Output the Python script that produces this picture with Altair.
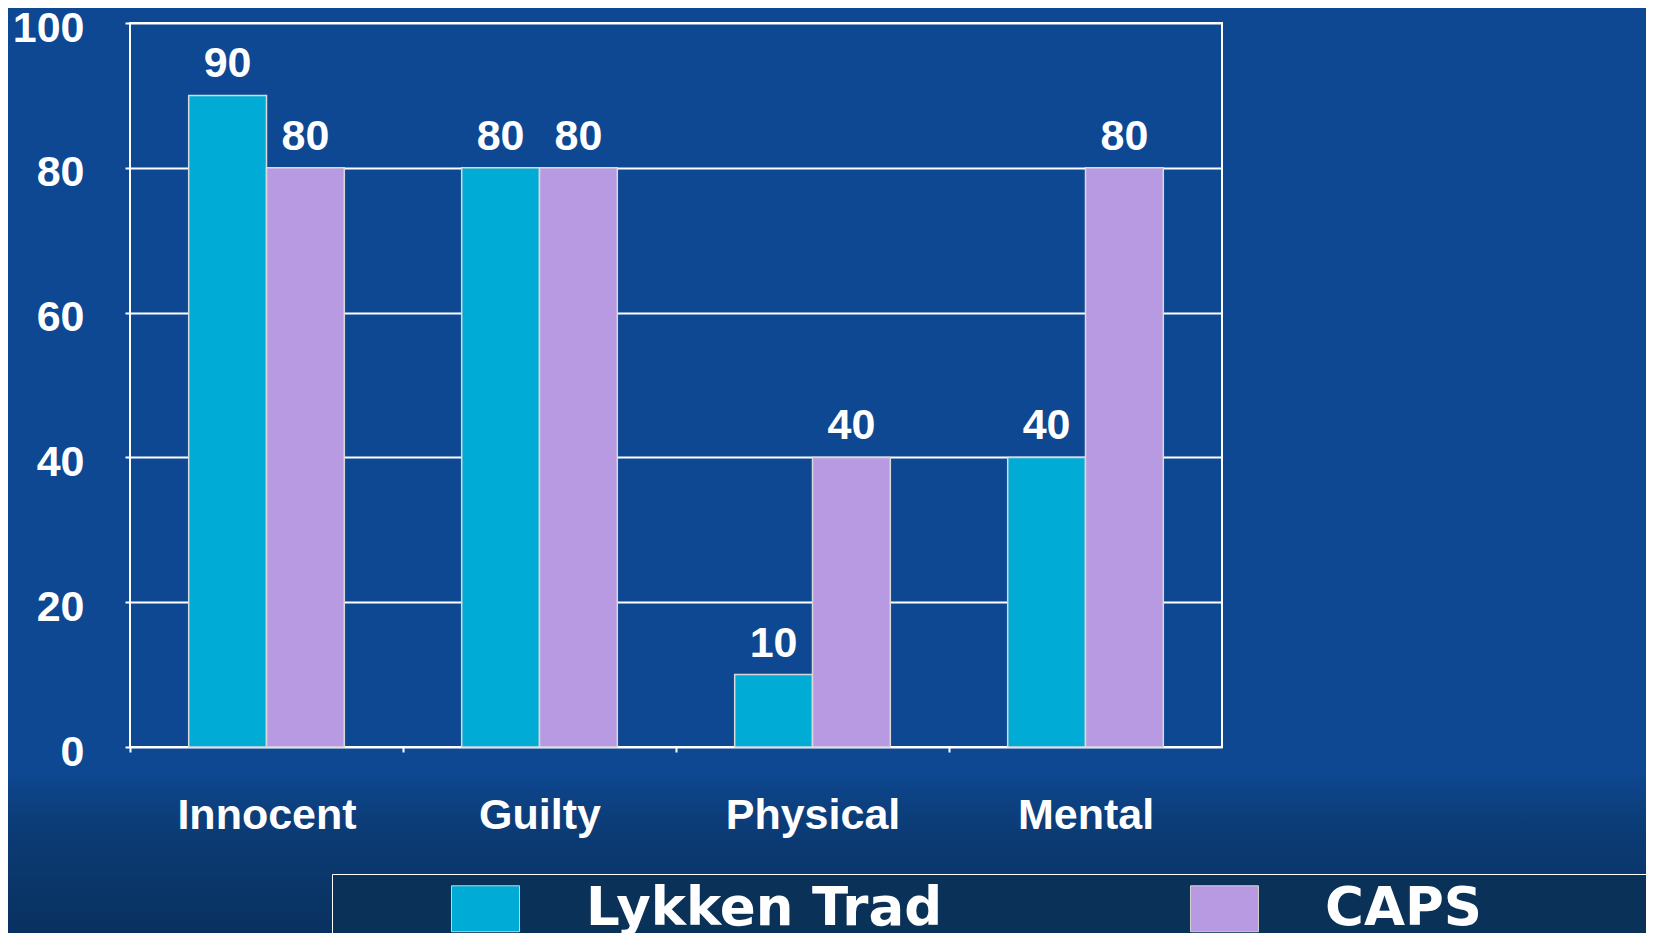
import altair as alt
import pandas as pd

categories = ["Innocent", "Guilty", "Physical", "Mental"]
series = ["Lykken Trad", "CAPS"]
lykken = [90, 80, 10, 40]
caps = [80, 80, 40, 80]
y_ticks = [0, 20, 40, 60, 80, 100]
colors = ["#00acd6", "#b89ae2"]

rows = []
for i, c in enumerate(categories):
    rows.append({"category": c, "series": series[0], "value": lykken[i]})
    rows.append({"category": c, "series": series[1], "value": caps[i]})
df = pd.DataFrame(rows)

W, H = 1092, 724
LF = "Liberation Sans"
HALF_STEP = W / len(categories) / 2

x_axis = alt.Axis(title=None, labelAngle=0, domain=False, ticks=True,
                  tickOffset=-HALF_STEP, labelOffset=HALF_STEP,
                  tickColor="white", tickSize=5, tickWidth=2, labelFont=LF, labelFontSize=43,
                  labelFontWeight="bold", labelColor="white", labelPadding=42, grid=False, zindex=1)
x_enc = alt.X("category:N", sort=categories,
              scale=alt.Scale(paddingInner=0.43, paddingOuter=0.215),
              axis=x_axis)
xo_enc = alt.XOffset("series:N", sort=series, scale=alt.Scale(paddingInner=0, paddingOuter=0))
y_axis = alt.Axis(values=y_ticks, title=None, domain=False, tickColor="white", tickSize=5,
                  tickWidth=2, grid=True, gridColor="white", gridWidth=2, gridOpacity=1,
                  labelFont=LF, labelFontSize=43, labelFontWeight="bold", labelColor="white",
                  labelPadding=41, labelOffset=5)
y_enc = alt.Y("value:Q", scale=alt.Scale(domain=[0, 100], nice=False), axis=y_axis)

# the legend frame runs off the right edge of the slide: a blank title on the right widens it
legend = alt.Legend(title="\u00a0", titleOrient="right", titlePadding=300, titleFontSize=8,
                    titleColor="white",
                    orient="none", legendX=202, legendY=851, direction="horizontal",
                    symbolType="M-1,-0.676H1V0.676H-1Z", symbolSize=4624,
                    symbolStrokeColor="#d0d0d0", symbolStrokeWidth=1, symbolOpacity=1,
                    symbolOffset=119, labelOffset=66, labelFont="DejaVu Sans", labelFontSize=53,
                    labelFontWeight="bold", labelColor="white", columnPadding=128, padding=0,
                    strokeColor="white", fillColor="#0a3158", labelLimit=0)

bg = alt.Chart(alt.Data(values=[{}])).mark_rect(
    fill=alt.Gradient(gradient="linear", x1=0, y1=0, x2=0, y2=1,
                      stops=[alt.GradientStop(color="rgba(10,52,100,0)", offset=0),
                             alt.GradientStop(color="#0b3a72", offset=0.35),
                             alt.GradientStop(color="#082c56", offset=1)])
).encode(x=alt.value(-130), x2=alt.value(1600), y=alt.value(748), y2=alt.value(960))

bars = alt.Chart(df).mark_bar(stroke="#d9d9d9", strokeWidth=1.5).encode(
    x=x_enc, xOffset=xo_enc, y=y_enc,
    color=alt.Color("series:N", sort=series, scale=alt.Scale(domain=series, range=colors), legend=legend),
)

labels = alt.Chart(df).mark_text(dy=-18, baseline="alphabetic", font=LF, fontSize=43,
                                 fontWeight="bold", color="white").encode(
    x=x_enc, xOffset=xo_enc, y=y_enc, text=alt.Text("value:Q"))

chart = alt.layer(bg, bars, labels).properties(
    width=W, height=H,
    autosize=alt.AutoSizeParams(type="none"),
    padding={"left": 122, "top": 15, "right": 424, "bottom": 186},
    background="#0e4893",
).configure_view(stroke="white", strokeWidth=2)

chart.save("out.html", embed_options={"renderer": "svg", "actions": False})
